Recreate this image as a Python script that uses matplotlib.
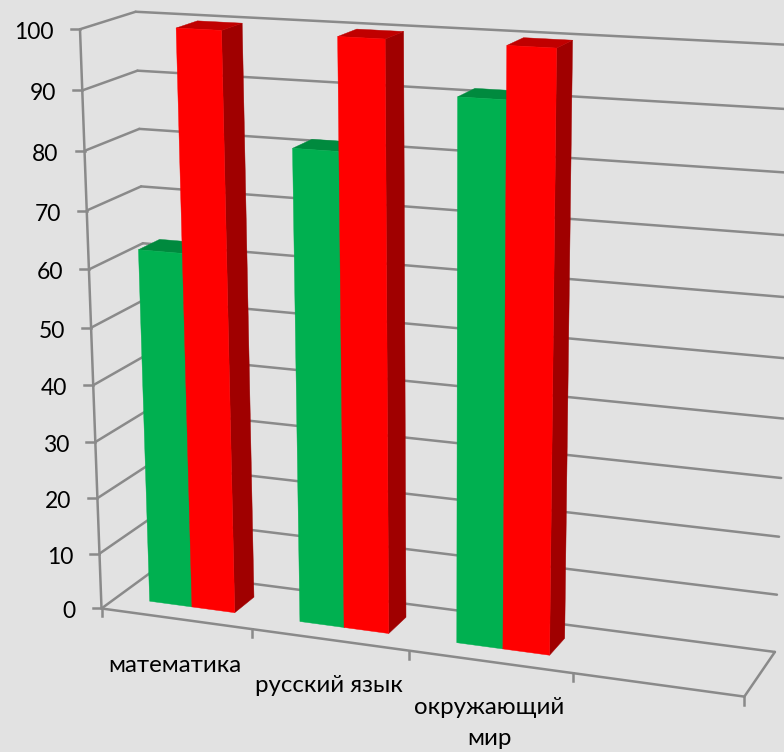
import numpy as np
import matplotlib
matplotlib.use('Agg')
import matplotlib.pyplot as plt

## Data
categories = ['математика', 'русский язык', 'окружающий\nмир', '']
green_values = [62.5, 81.5, 91.5]
red_values = [100, 100, 100]
y_ticks = list(range(0, 101, 10))

## Colors
BG = '#e2e2e2'
GRID = '#8a8a8a'
GREEN = ('#00b050', '#008a3e', '#007a37')   # front, top, side
RED = ('#ff0000', '#c00000', '#a00000')

plt.rcParams['font.family'] = ['Lato', 'Open Sans', 'DejaVu Sans']

W, H = 784, 752
fig = plt.figure(figsize=(W / 100, H / 100), dpi=100, facecolor=BG)
ax = fig.add_axes([0, 0, 1, 1])
ax.set_xlim(0, W)
ax.set_ylim(H, 0)
ax.axis('off')

## Perspective camera, fitted to the corners of the chart box
## (u along categories 0-1, d depth 0-1, value 0-100) -> pixel
box_pts = [
    (0, 0, 0, 101, 609), (0, 0, 100, 81, 29),
    (0, 1, 0, 154, 570), (0, 1, 100, 135, 12),
    (0, 1, 90, 137, 71), (0, 1, 60, 143, 243),
    (1, 0, 0, 743, 696), (1, 1, 0, 775, 652),
    (1, 1, 10, 777, 595), (1, 1, 20, 779, 537),
    (1, 1, 80, 792, 173.5), (1, 1, 90, 794.5, 109), (1, 1, 100, 797, 45),
    (0.25, 0, 0, 251, 629), (0.5, 0, 0, 408, 651), (0.75, 0, 0, 575, 673),
]
A = []
for u, d, v, px, py in box_pts:
    A.append([u, d, v, 1, 0, 0, 0, 0, -px * u, -px * d, -px * v, -px])
    A.append([0, 0, 0, 0, u, d, v, 1, -py * u, -py * d, -py * v, -py])
P = np.linalg.svd(np.array(A, float))[2][-1].reshape(3, 4)


def project(u, d, v):
    q = P @ np.array([u, d, v, 1.0])
    return q[0] / q[2], q[1] / q[2]


def line(a, b):
    pa, pb = project(*a), project(*b)
    ax.plot([pa[0], pb[0]], [pa[1], pb[1]], color=GRID, lw=1.8, solid_capstyle='round', zorder=1)


def face(corners, color):
    pts = [project(*c) for c in corners]
    ax.fill([p[0] for p in pts], [p[1] for p in pts], color=color, lw=0.3, zorder=3)


## Walls and floor
for v in y_ticks:
    line((0, 0, v), (0, 1, v))
    line((0, 1, v), (1, 1, v))
line((0, 0, 0), (0, 0, 100))
line((0, 0, 0), (1, 0, 0))
line((1, 0, 0), (1, 1, 0))

## Y axis ticks and labels
for v in y_ticks:
    x0, y0 = project(0, 0, v)
    ax.plot([x0 - 9, x0], [y0, y0], color=GRID, lw=1.8, zorder=1)
    ax.text(x0 - 26, y0 + 3.5, str(v), ha='right', va='center', fontsize=16.5, color='black')

## X axis ticks and labels
n = len(categories)
for i in range(n + 1):
    x0, y0 = project(i / n, 0, 0)
    ax.plot([x0, x0], [y0, y0 + 8], color=GRID, lw=1.8, zorder=1)
label_pos = [(175, 665), (329, 686), (489, 723)]
for name, (lx, ly) in zip(categories, label_pos):
    ax.text(lx, ly, name, ha='center', va='center', fontsize=17.3, color='black', linespacing=1.6)

## Bars: gap width 150%, gap depth 150%
GAP = 0.75 / 3.5 + 0.006
BAR = 1 / 3.5
D0, D1 = 0.3, 0.7


def bar(i, slot, value, colors):
    u0 = (i + GAP + slot * BAR) / n
    u1 = (i + GAP + (slot + 1) * BAR) / n
    front, top, side = colors
    face([(u1, D0, 0), (u1, D1, 0), (u1, D1, value), (u1, D0, value)], side)
    face([(u0, D0, value), (u1, D0, value), (u1, D1, value), (u0, D1, value)], top)
    face([(u0, D0, 0), (u1, D0, 0), (u1, D0, value), (u0, D0, value)], front)


for i in range(len(green_values)):
    bar(i, 0, green_values[i], GREEN)
    bar(i, 1, red_values[i], RED)

fig.savefig('out.png', dpi=100, facecolor=BG)
